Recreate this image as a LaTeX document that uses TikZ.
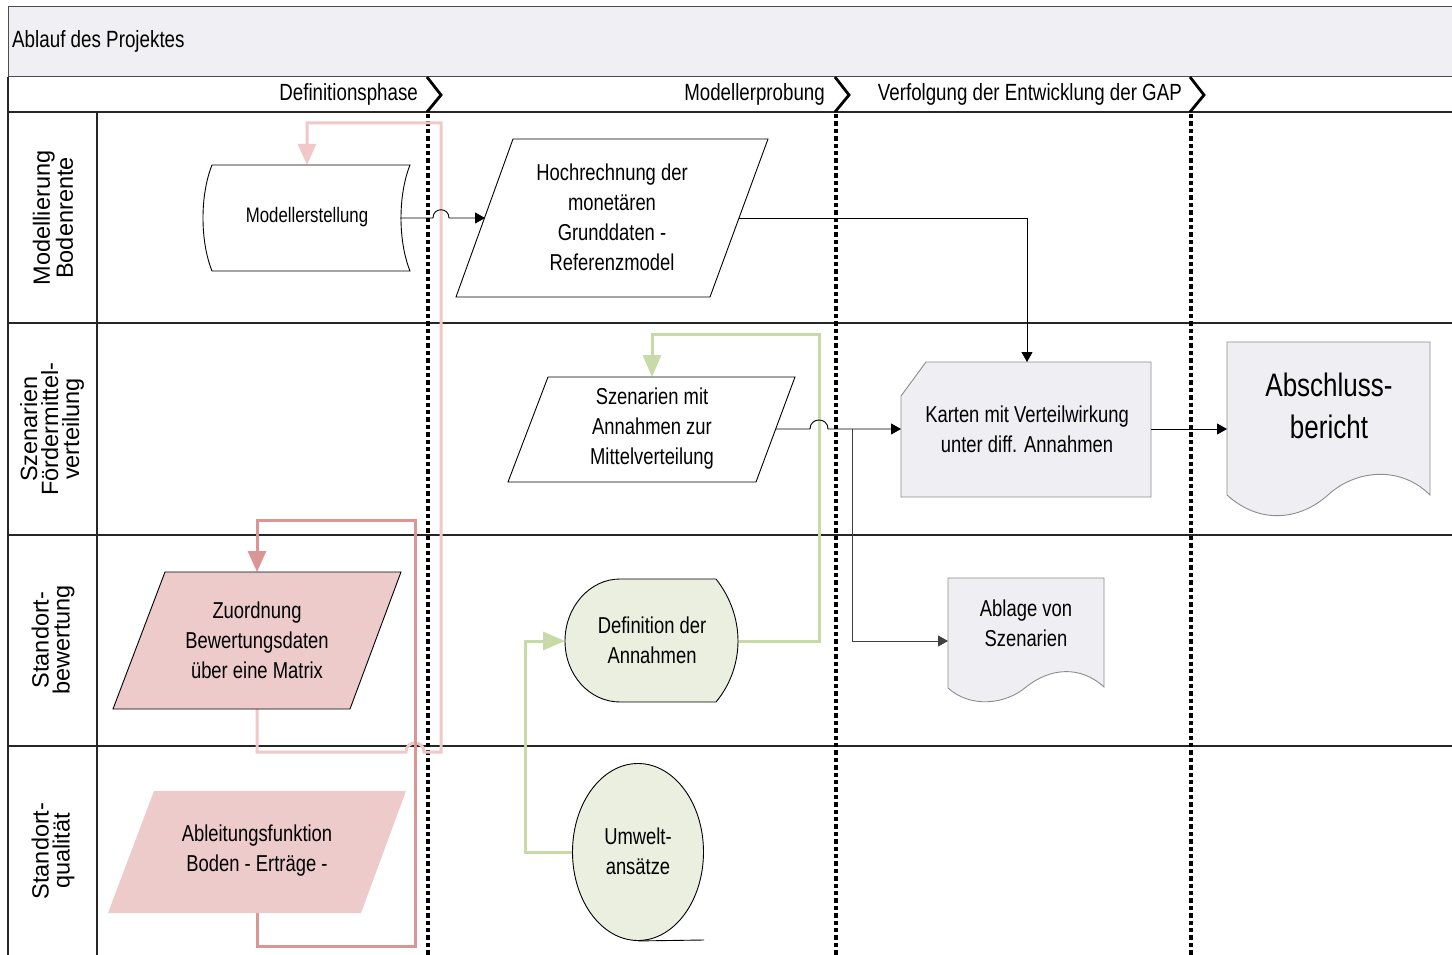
\documentclass[tikz,border=0pt]{standalone}
\usepackage{fontspec}
\setmainfont{Liberation Sans}
\newfontfamily\nf[FakeStretch=0.8]{Liberation Sans}
\usetikzlibrary{arrows.meta,shapes.geometric}
\definecolor{band}{RGB}{240,239,244}
\definecolor{docfill}{RGB}{239,238,243}
\definecolor{docline}{RGB}{140,140,140}
\definecolor{pinkfill}{RGB}{237,203,203}
\definecolor{pinklight}{RGB}{240,200,200}
\definecolor{pinkdark}{RGB}{218,150,148}
\definecolor{greenfill}{RGB}{235,239,223}
\definecolor{greenline}{RGB}{200,218,168}
\begin{document}
\begin{tikzpicture}[x=1pt,y=-1pt,
  frame/.style={line width=1.1pt, draw=black!85},
  phasediv/.style={line width=4pt, dash pattern=on 4.4pt off 3pt},
  chev/.style={line width=2.8pt},
  shapeline/.style={line width=0.9pt},
  txt/.style={font=\nf\fontsize{23}{30}\selectfont, align=center, inner sep=0pt},
  lanelbl/.style={font=\fontsize{23.5}{21}\selectfont, align=center, rotate=90, inner sep=0pt},
  phaselbl/.style={font=\nf\fontsize{23.4}{28}\selectfont, anchor=east, inner sep=0pt},
  conn/.style={line width=0.9pt, -{Triangle[length=10pt,width=11pt]}},
  pinkA/.style={line width=3pt, draw=pinklight, -{Triangle[length=21pt,width=18pt]}},
  pinkB/.style={line width=3pt, draw=pinkdark, -{Triangle[length=21pt,width=18pt]}},
  greenA/.style={line width=3pt, draw=greenline, -{Triangle[length=22pt,width=18pt]}},
  docshape/.style={fill=docfill, draw=docline, line width=0.9pt}
]
\useasboundingbox (0,0) rectangle (1452,955);
\fill[white] (0,0) rectangle (1452,955);

% ---- title band and frame ----
\filldraw[fill=band, draw=black!70, line width=1pt] (1452,7) -- (8,7) -- (8,77) -- (1452,77);
\node[anchor=west, inner sep=0pt, font=\nf\fontsize{23.5}{28}\selectfont] (title) at (12,41) {Ablauf des Projektes};
\draw[frame] (8,77) -- (8,955);
\draw[frame] (8,112) -- (1452,112);
\draw[frame] (8,323) -- (1452,323);
\draw[frame] (8,535) -- (1452,535);
\draw[frame] (8,746) -- (1452,746);
\draw[frame] (97,112) -- (97,955);

% ---- lane labels ----
\node[lanelbl] (l1) at (53,218) {Modellierung\\Bodenrente};
\node[lanelbl] (l2) at (52,429) {Szenarien\\Fördermittel-\\verteilung};
\node[lanelbl] (l3) at (53,640) {Standort-\\bewertung};
\node[lanelbl] (l4) at (53,851) {Standort-\\qualität};

% ---- phase labels, chevrons, dividers ----
\node[phaselbl] (p1) at (418,94) {Definitionsphase};
\node[phaselbl] (p2) at (825,94) {Modellerprobung};
\node[phaselbl] (p3) at (1182,94) {Verfolgung der Entwicklung der GAP};
\foreach \xx in {428,836,1191}{
  \draw[chev] (\xx-1,77) -- (\xx+13,95) -- (\xx-1,112);
  \draw[phasediv] (\xx,114) -- (\xx,955);
}

% ---- colored connectors (behind shapes) ----
\coordinate (zu-s) at (257,709);
\coordinate (ms-n) at (307,165);
\draw[pinkA] (zu-s) -- (257,752) -- (406,752) .. controls (406,740) and (424,740) .. (424,752)
   -- (441,752) -- (441,123) -- (307,123) -- (ms-n);
\coordinate (ab-s) at (257,913);
\coordinate (zu-n) at (257,572);
\draw[pinkB] (ab-s) -- (257,946) -- (415,946) -- (415,520) -- (257,520) -- (zu-n);
\coordinate (um-w) at (573,852);
\coordinate (de-w) at (565,641);
\draw[greenA] (um-w) -- (525,852) -- (525,641) -- (de-w);
\coordinate (de-e) at (738,641);
\coordinate (sz-n) at (652,377);
\draw[greenA] (de-e) -- (819,641) -- (819,334) -- (652,334) -- (sz-n);

% ---- shapes ----
% Modellerstellung (stored data)
\draw[shapeline, fill=white] (212,165) -- (410,165) .. controls (398,195) and (398,241) .. (410,271)
   -- (212,271) .. controls (200,241) and (200,195) .. (212,165) -- cycle;
\node[txt, font=\nf\fontsize{21}{28}\selectfont] (ms) at (307,217) {Modellerstellung};
% Hochrechnung
\draw[shapeline, fill=white] (513,139) -- (768,139) -- (710,297) -- (456,297) -- cycle;
\node[txt] (hr) at (612,217) {Hochrechnung der\\monetären\\Grunddaten -\\Referenzmodel};
% Szenarien
\draw[shapeline, fill=white] (548,377) -- (795,377) -- (756,482) -- (508,482) -- cycle;
\node[txt] (sz) at (652,429) {Szenarien mit\\Annahmen zur\\Mittelverteilung};
% Karten (card)
\draw[docshape] (901,396) -- (926,362) -- (1151,362) -- (1151,497) -- (901,497) -- cycle;
\node[txt] (ka) at (1027,429) {Karten mit Verteilwirkung\\unter diff. Annahmen};
% Abschlussbericht (document)
\draw[docshape] (1227,342) -- (1430,342) -- (1430,495)
   .. controls (1400,465) and (1355,470) .. (1328,495)
   .. controls (1300,520) and (1260,525) .. (1227,495) -- cycle;
\node[txt, font=\nf\fontsize{32.5}{42}\selectfont] (abs) at (1329,406) {Abschluss-\\bericht};
% Ablage von Szenarien (document)
\draw[docshape] (948,578) -- (1104,578) -- (1104,687)
   .. controls (1080,665) and (1050,668) .. (1026,687)
   .. controls (1005,705) and (970,708) .. (948,688) -- cycle;
\node[txt] (abl) at (1026,623) {Ablage von\\Szenarien};
% Zuordnung
\draw[shapeline, fill=pinkfill] (165,572) -- (401,572) -- (350,709) -- (113,709) -- cycle;
\node[txt] (zu) at (257,640) {Zuordnung\\Bewertungsdaten\\über eine Matrix};
% Ableitungsfunktion
\fill[pinkfill] (154,791) -- (406,791) -- (361,913) -- (108,913) -- cycle;
\node[txt] (ab) at (257,851) {Ableitungsfunktion\\Boden - Erträge -};
% Definition der Annahmen (display)
\draw[shapeline, fill=greenfill] (620,579) -- (716,579)
   .. controls (731,598) and (738,620) .. (738,641)
   .. controls (738,662) and (731,684) .. (716,702)
   -- (620,702)
   .. controls (589.6,702) and (565,675) .. (565,641)
   .. controls (565,607) and (589.6,579) .. (620,579) -- cycle;
\node[txt] (de) at (652,640) {Definition der\\Annahmen};
% Umweltansaetze (sequential data)
\node[draw, shapeline, fill=greenfill, ellipse, minimum width=131pt, minimum height=177pt, inner sep=0pt] (um) at (638,852) {};
\draw[shapeline] (um.south) -- (704,940);
\node[txt] (umt) at (638,851) {Umwelt-\\ansätze};

% ---- black connectors ----
\coordinate (ms-e) at (400,218);
\coordinate (hr-w) at (485,218);
\draw[conn] (ms-e) -- (433,218) .. controls (433,207) and (449,207) .. (449,218) -- (hr-w);
\coordinate (hr-e) at (739,218);
\coordinate (ka-n) at (1027,362);
\draw[conn] (hr-e) -- (1027,218) -- (ka-n);
\coordinate (sz-e) at (776,429);
\coordinate (ka-w) at (901,429);
\coordinate (br) at (852,429);
\draw[conn] (sz-e) -- (810,429) .. controls (810,417) and (828,417) .. (828,429) -- (ka-w);
\coordinate (abl-w) at (948,641);
\draw[conn, draw=black!75] (br) -- (852,641) -- (abl-w);
\coordinate (ka-e) at (1151,429);
\coordinate (abs-w) at (1227,429);
\draw[conn] (ka-e) -- (abs-w);
\end{tikzpicture}
\end{document}
